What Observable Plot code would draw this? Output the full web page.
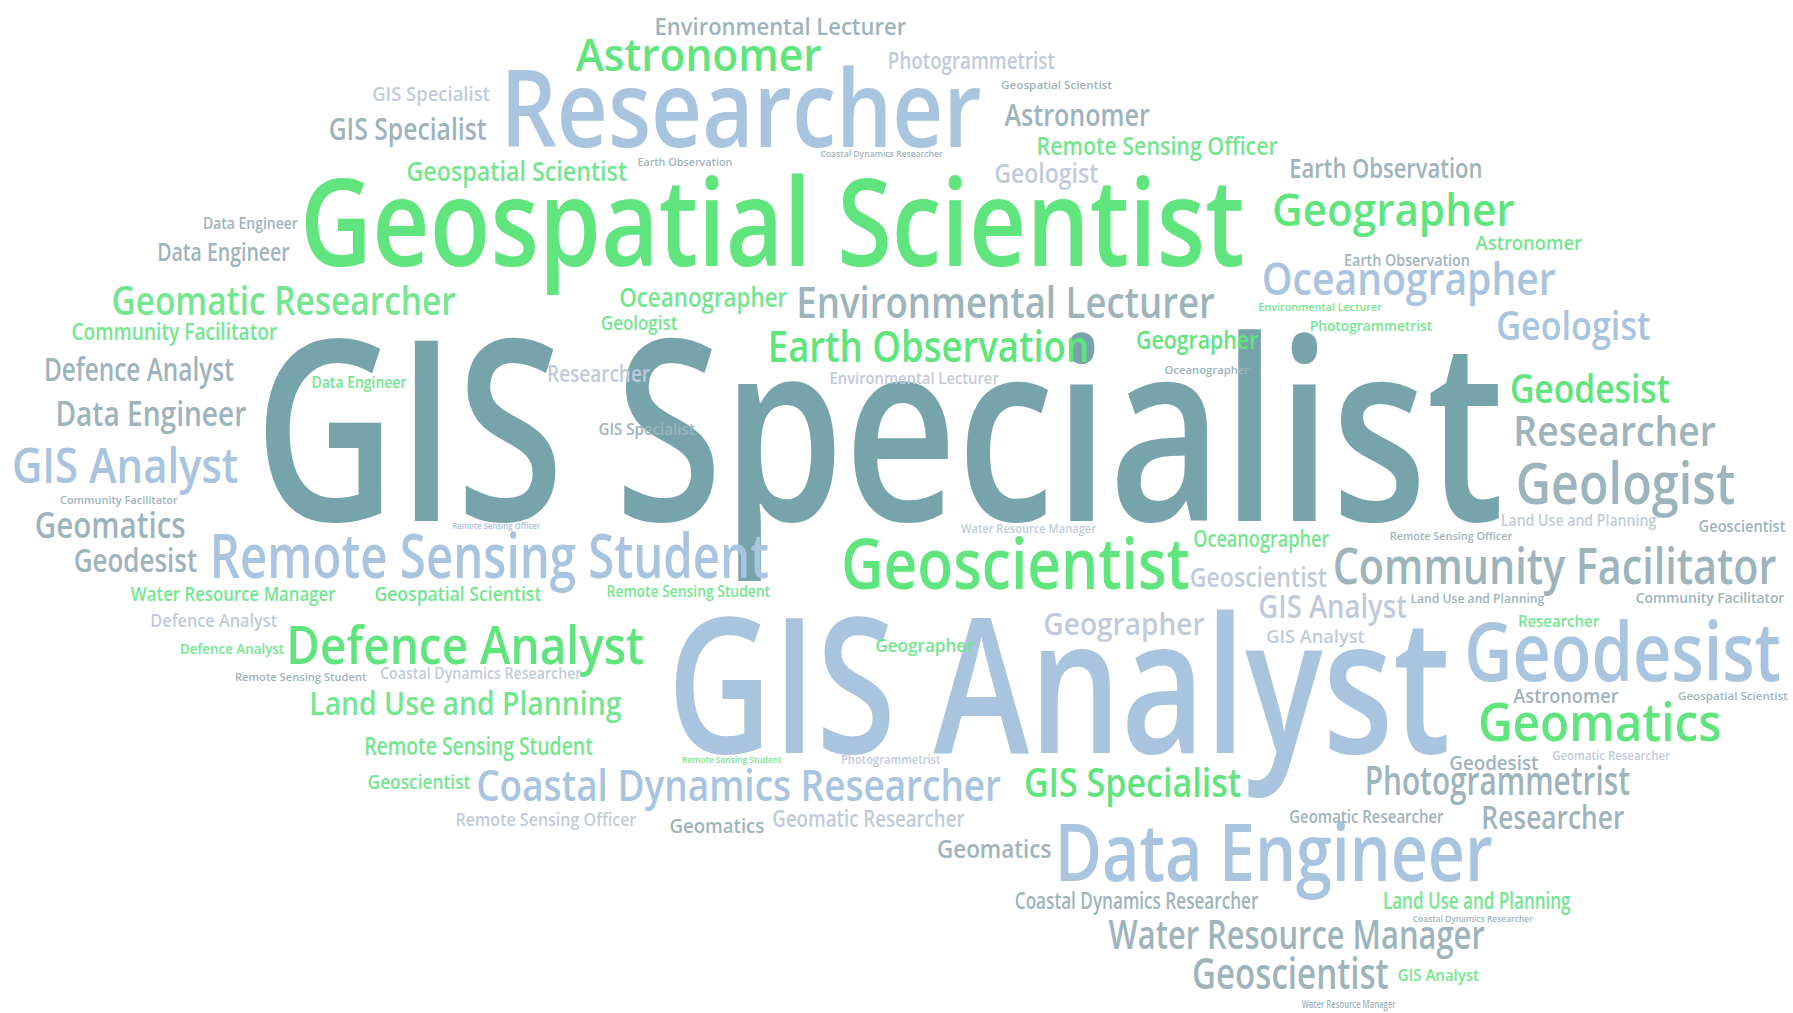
<!DOCTYPE html>
<html>
<head>
<meta charset="utf-8">
<script src="https://cdn.jsdelivr.net/npm/d3@7"></script>
<script src="https://cdn.jsdelivr.net/npm/@observablehq/plot@0.6"></script>
<style>
  html, body { margin: 0; padding: 0; background: #ffffff; }
  #chart svg { display: block; }
</style>
</head>
<body>
<div id="chart"></div>
<script>
// Word-cloud data (coordinates in a 1568 x 886 reference frame)
const words = [
  "Environmental Lecturer","Astronomer","Photogrammetrist","Researcher","GIS Specialist",
  "GIS Specialist","Geospatial Scientist","Astronomer","Remote Sensing Officer","Earth Observation",
  "Coastal Dynamics Researcher","Geospatial Scientist","Geologist","Earth Observation","Geospatial Scientist",
  "Geographer","Data Engineer","Data Engineer","Astronomer","Earth Observation",
  "Oceanographer","Geomatic Researcher","Oceanographer","Environmental Lecturer","Environmental Lecturer",
  "Geologist","Community Facilitator","Photogrammetrist","Geologist","Earth Observation",
  "Geographer","Defence Analyst","Data Engineer","Researcher","Environmental Lecturer",
  "Oceanographer","GIS Specialist","Geodesist","Data Engineer","GIS Specialist",
  "Researcher","GIS Analyst","Geologist","Community Facilitator","Geomatics",
  "Remote Sensing Officer","Water Resource Manager","Oceanographer","Remote Sensing Officer","Land Use and Planning",
  "Geoscientist","Geodesist","Remote Sensing Student","Geoscientist","Geoscientist",
  "Community Facilitator","Water Resource Manager","Geospatial Scientist","Remote Sensing Student","GIS Analyst",
  "Land Use and Planning","Community Facilitator","Defence Analyst","Defence Analyst","GIS Analyst",
  "Researcher","Geographer","Geodesist","GIS Analyst","Geographer",
  "Defence Analyst","Remote Sensing Student","Coastal Dynamics Researcher","Land Use and Planning","Astronomer",
  "Geospatial Scientist","Geomatics","Remote Sensing Student","Remote Sensing Student","Photogrammetrist",
  "Geodesist","Geomatic Researcher","Geoscientist","Coastal Dynamics Researcher","GIS Specialist",
  "Photogrammetrist","Remote Sensing Officer","Geomatics","Geomatic Researcher","Geomatic Researcher",
  "Researcher","Geomatics","Data Engineer","Coastal Dynamics Researcher","Land Use and Planning",
  "Coastal Dynamics Researcher","Water Resource Manager","Geoscientist","GIS Analyst","Water Resource Manager"
];
const xLeft = [
  572,503,776,437,325, 287,875,878,906,557, 717,355,869,1127,262, 1112,177,137,1290,1175,
  1103,97,541,696,1100, 525,62,1145,1308,671, 993,38,272,478,725, 1018,222,1320,48,523,
  1323,10,1325,52,30, 395,840,1043,1215,1312, 1485,64,183,735,1040, 1165,114,327,530,1100,
  1233,1430,131,250,1107, 1327,912,1280,583,765, 157,205,332,270,1323, 1467,1292,318,596,735,
  1267,1357,321,416,895, 1193,398,585,675,1127, 1295,819,922,887,1209, 1235,969,1042,1222,1138
];
const xRight = [
  792,718,922,858,428, 425,972,1005,1117,640, 824,548,960,1296,1088, 1324,260,253,1383,1285,
  1360,398,688,1062,1208, 592,242,1252,1443,952, 1100,204,355,568,873, 1092,1315,1460,215,607,
  1500,208,1517,155,162, 472,958,1162,1322,1448, 1561,172,672,1040,1160, 1553,293,473,673,1230,
  1350,1560,242,563,1193, 1398,1053,1557,1268,851, 248,320,508,543,1415, 1563,1505,518,683,822,
  1345,1460,411,875,1085, 1425,556,668,843,1262, 1420,919,1305,1100,1373, 1340,1298,1214,1293,1220
];
const yBase = [
  30,62,60,128,88, 122,77,110,135,145, 137,158,160,155,232, 197,200,228,218,232,
  258,275,268,278,272, 288,297,289,297,316, 305,333,339,334,335, 327,455,352,372,380,
  390,422,440,440,470, 462,466,478,472,460, 465,500,505,515,513, 510,525,525,522,540,
  527,527,548,580,562, 548,555,595,658,570, 572,595,593,625,614, 612,648,660,667,668,
  673,664,690,700,697, 695,722,728,723,719, 725,750,770,795,795, 806,830,865,858,881
];
const weight = [
  20,40,21,94,17, 26,10,27,22,9, 7,24,24,24,106, 40,14,22,17,14,
  40,34,24,38,10, 17,20,12,34,38, 22,28,14,20,14, 9,220,34,30,14,
  36,42,50,9,32, 7,11,20,9,14, 14,28,54,62,24, 45,18,18,14,28,
  11,13,16,46,16, 14,26,72,165,16, 13,10,14,28,18, 10,46,22,8,11,
  18,11,18,38,34, 34,16,18,20,16, 28,22,70,20,20, 8,34,38,14,9
];
const tone = [
  "slate","green","pale","blue","pale", "slate","slate","slate","mint","slate",
  "slate","mint","pale","slate","green", "green","slate","slate","mint","slate",
  "blue","mint","mint","slate","mint", "mint","mint","mint","blue","green",
  "green","slate","mint","pale","pale", "slate","teal","green","slate","slate",
  "slate","blue","slate","slate","slate", "blue","pale","mint","slate","pale",
  "slate","slate","blue","green","pale", "slate","mint","mint","mint","pale",
  "slate","slate","pale","green","pale", "mint","pale","blue","blue","mint",
  "mint","slate","pale","mint","slate", "slate","green","mint","mint","pale",
  "slate","pale","mint","blue","green", "slate","pale","slate","pale","slate",
  "slate","slate","blue","slate","mint", "slate","slate","slate","mint","slate"
];
const toneNames = ["teal","green","mint","blue","slate","pale"];
const toneColors = ["#77a4ab","#60e47d","#74e690","#a9c4de","#9db4bc","#bfcbdb"];

const W = 1793, H = 1013;
const k = W / 1568;
const rows = words.map((w, i) => ({word: w, x: xLeft[i], y: yBase[i], size: weight[i] * k, tone: tone[i]}));

const chart = Plot.plot({
  width: W, height: H,
  margin: 0,
  x: {domain: [0, 1568], range: [0, W], axis: null},
  y: {domain: [0, 886], range: [0, H], axis: null},
  color: {domain: toneNames, range: toneColors},
  style: {background: "#ffffff"},
  marks: [
    Plot.text(rows, {
      x: "x", y: "y", text: "word", fill: "tone",
      fontSize: "size", textAnchor: "start",
      sort: (d) => -d.size,
      fontFamily: "'Open Sans', 'Noto Sans', sans-serif", fontWeight: 600
    })
  ]
});

const sx = chart.scale("x");
d3.select(chart).selectAll("text").each(function(i) {
  if (typeof i !== "number") return;
  const w = sx.apply(xRight[i]) - sx.apply(xLeft[i]);
  this.setAttribute("textLength", w);
  this.setAttribute("lengthAdjust", "spacingAndGlyphs");
  const yy = this.getAttribute("y");
  if (yy && /em$/.test(yy)) this.removeAttribute("y");
  const dy = this.getAttribute("dy");
  if (dy && /em$/.test(dy)) this.removeAttribute("dy");
});
document.getElementById("chart").appendChild(chart);
</script>
</body>
</html>
